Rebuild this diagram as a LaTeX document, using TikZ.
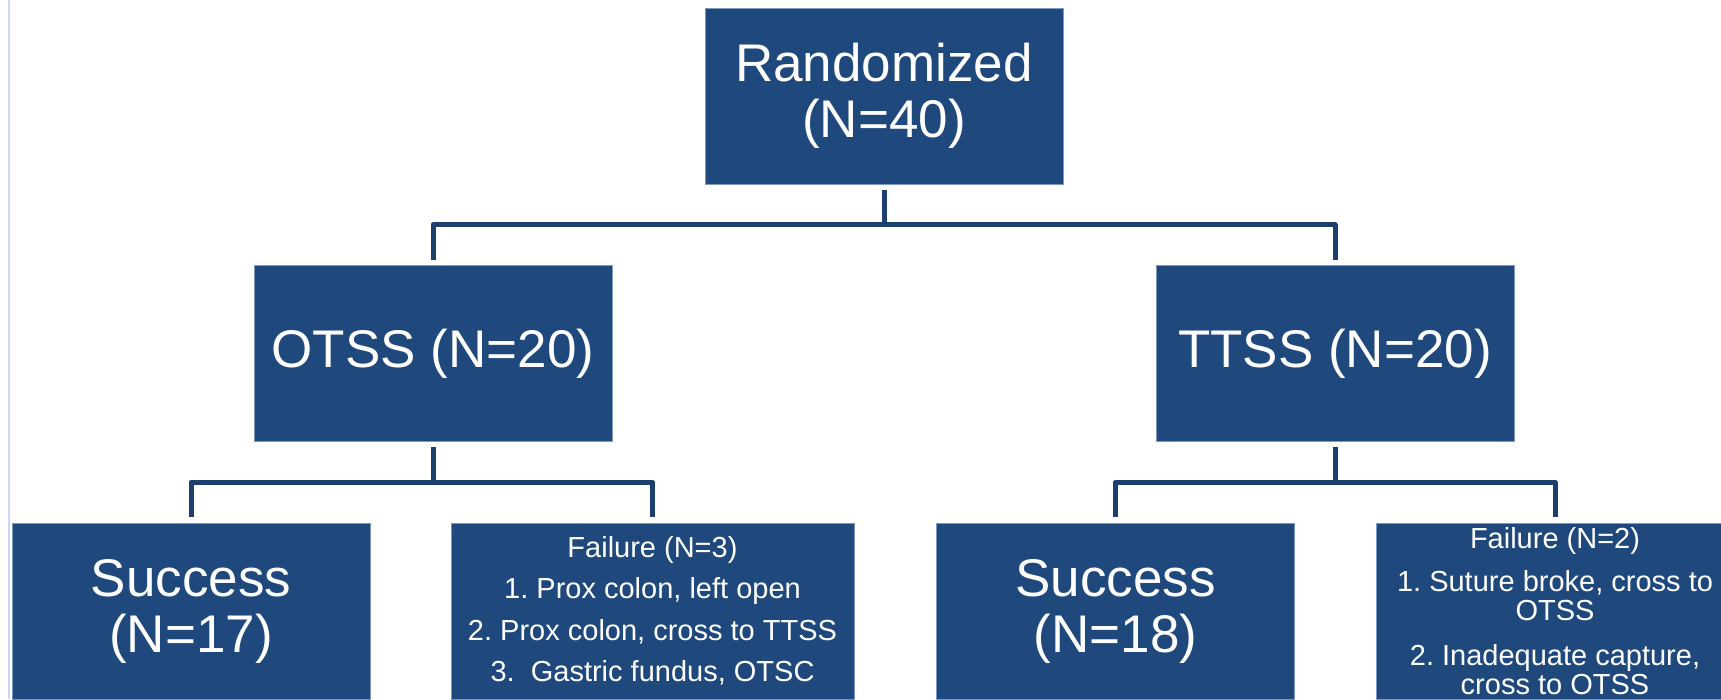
\documentclass[tikz,border=0pt]{standalone}
\usepackage{fontspec}
\setmainfont{Liberation Sans}
\usetikzlibrary{calc}
\frenchspacing

\definecolor{boxblue}{HTML}{1F497D}
\definecolor{boxedge}{HTML}{7D99C0}
\definecolor{linkblue}{HTML}{1D3F6E}
\definecolor{slideedge}{HTML}{C6D9F1}

\begin{document}
\begin{tikzpicture}[x=1pt,y=-1pt,
  box/.style={rectangle,fill=boxblue,draw=boxedge,line width=0.8pt,text=white,align=center,inner sep=0pt,minimum width=358pt,minimum height=176pt,font=\fontsize{53}{56}\selectfont},
  note/.style={box,font=\fontsize{29}{41.5}\selectfont},
  link/.style={draw=linkblue,line width=5pt,line join=round}]

  \useasboundingbox (0,0) rectangle (1721,699);
  \clip (0,0) rectangle (1721,699);
  \draw[slideedge,line width=2pt] (9,0) -- (9,699);

  \node[box] (rand) at (884,96) {Randomized\\(N=40)};
  \node[box] (otss) at (433,353.5) {OTSS (N=20)};
  \node[box] (ttss) at (1335,353.5) {TTSS (N=20)};
  \node[box] (succ1) at (191,611) {Success\\(N=17)};
  \node[note,minimum width=403pt] (fail1) at (652.5,611) {Failure (N=3)\\1. Prox colon, left open\\2. Prox colon, cross to TTSS\\3.~~Gastric fundus, OTSC};
  \node[box] (succ2) at (1115.5,611) {Success\\(N=18)};
  \node[note,font=\fontsize{29}{29}\selectfont] (fail2) at (1555,611) {Failure (N=2)\\[14pt]1. Suture broke, cross to\\OTSS\\[16pt]2. Inadequate capture,\\cross to OTSS};

  % first split
  \coordinate (s1) at ($(rand.south)!.5!(rand.south |- otss.north)$);
  \draw[link] ($(rand.south)+(0,6)$) -- (s1);
  \draw[link] ($(otss.north)+(0,-5)$) |- (s1) -| ($(ttss.north)+(0,-5)$);

  % OTSS arm
  \coordinate (s2) at ($(otss.south)!.5!(otss.south |- succ1.north)$);
  \draw[link] ($(otss.south)+(0,5)$) -- (s2);
  \draw[link] ($(succ1.north)+(0,-6)$) |- (s2) -| ($(fail1.north)+(0,-6)$);

  % TTSS arm
  \coordinate (s3) at ($(ttss.south)!.5!(ttss.south |- succ2.north)$);
  \draw[link] ($(ttss.south)+(0,5)$) -- (s3);
  \draw[link] ($(succ2.north)+(0,-6)$) |- (s3) -| ($(fail2.north)+(0,-6)$);
\end{tikzpicture}
\end{document}
